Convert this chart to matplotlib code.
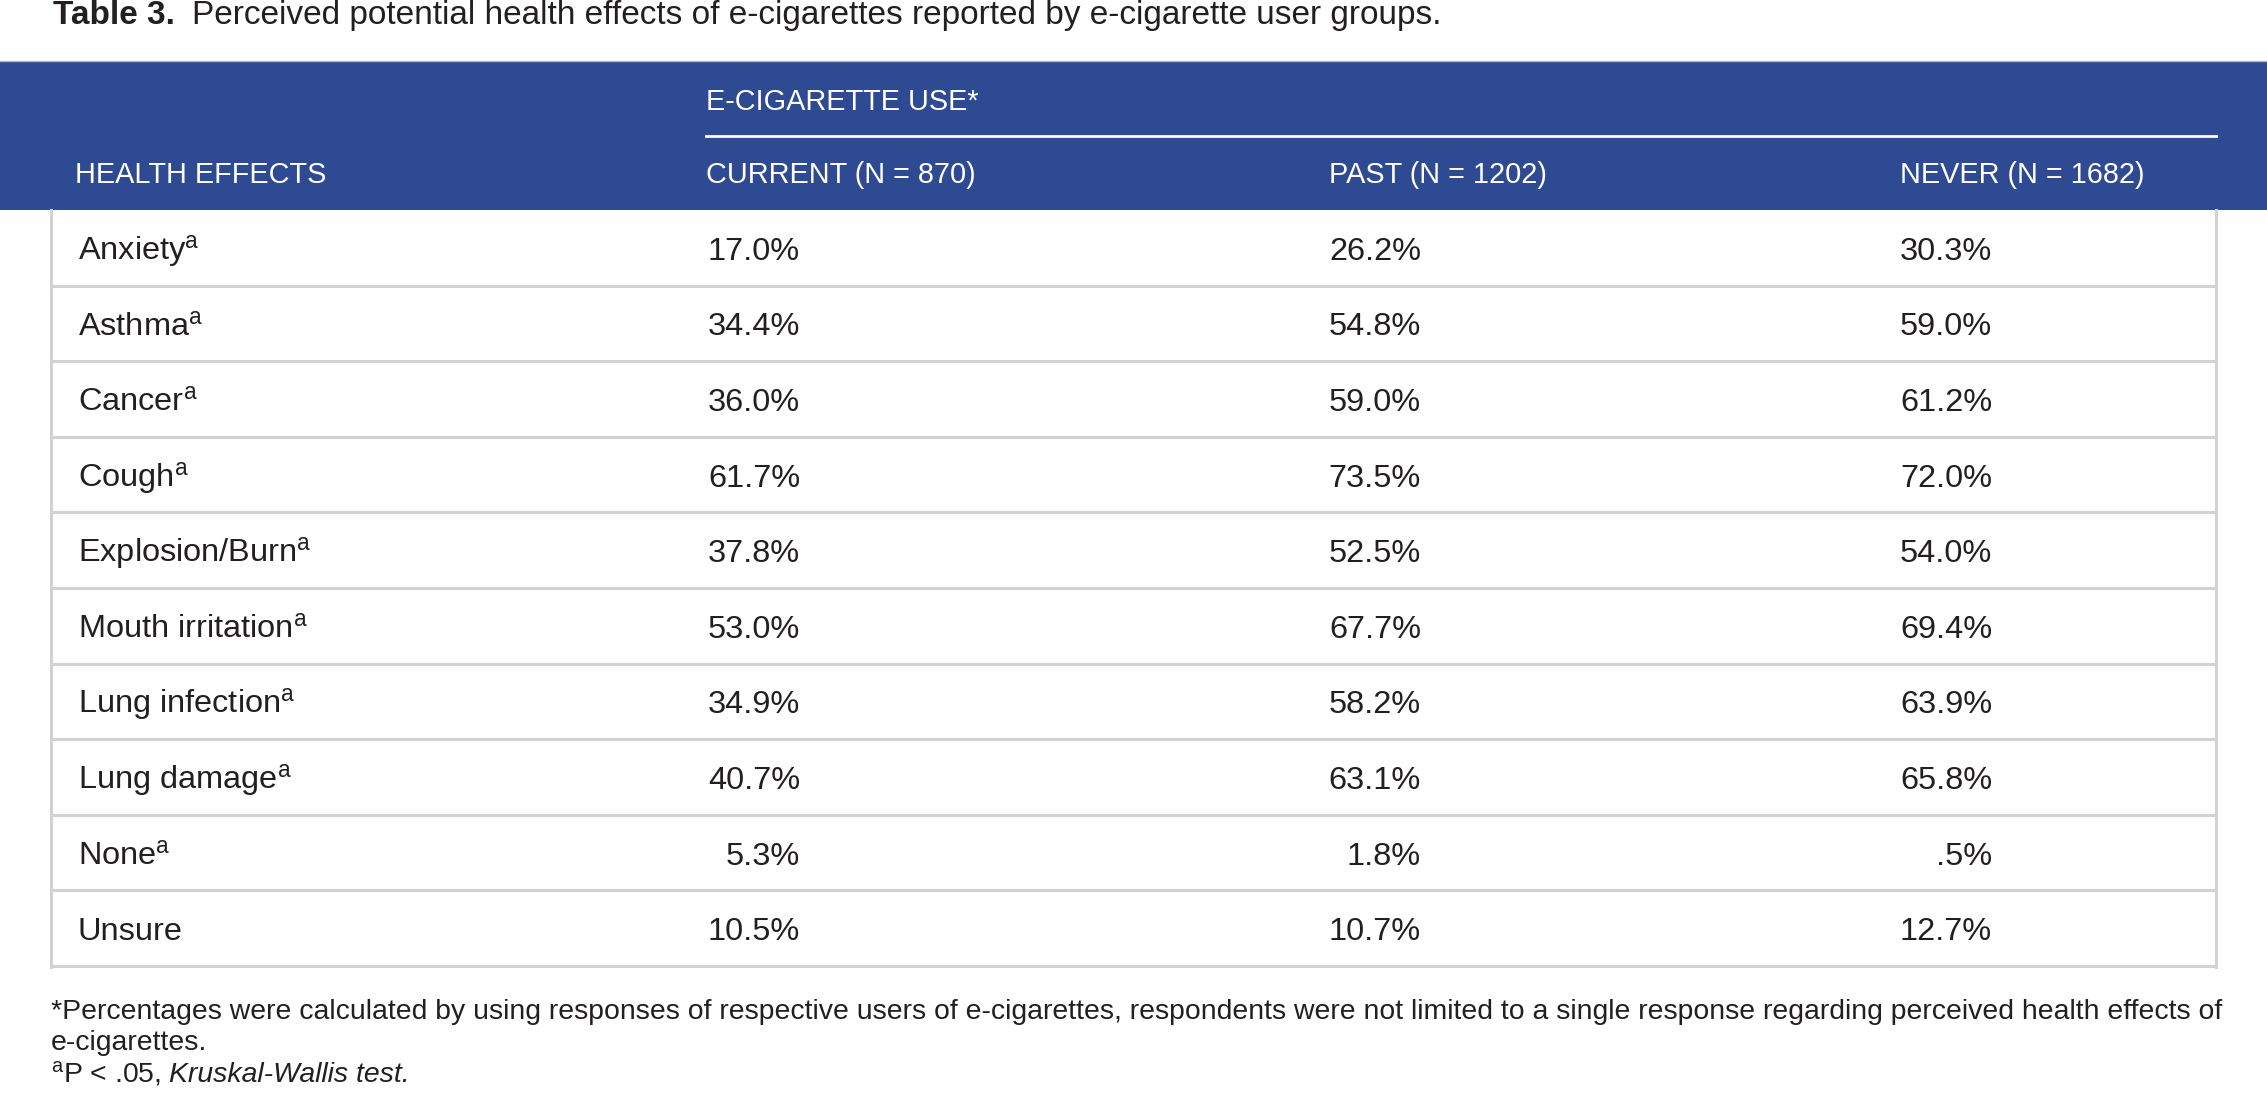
import matplotlib
matplotlib.use("Agg")
import matplotlib.pyplot as plt

# table content
health_effects = ["Anxiety", "Asthma", "Cancer", "Cough", "Explosion/Burn",
                  "Mouth irritation", "Lung infection", "Lung damage", "None", "Unsure"]
significant = [True, True, True, True, True, True, True, True, True, False]
current_use = [17.0, 34.4, 36.0, 61.7, 37.8, 53.0, 34.9, 40.7, 5.3, 10.5]
past_use = [26.2, 54.8, 59.0, 73.5, 52.5, 67.7, 58.2, 63.1, 1.8, 10.7]
never_use = [30.3, 59.0, 61.2, 72.0, 54.0, 69.4, 63.9, 65.8, 0.5, 12.7]
column_headers = ["CURRENT (N = 870)", "PAST (N = 1202)", "NEVER (N = 1682)"]
group_header = "E-CIGARETTE USE*"
first_header = "HEALTH EFFECTS"
title_bold = "Table 3."
title_text = "Perceived potential health effects of e-cigarettes reported by e-cigarette user groups."
footnote_1 = ("*Percentages were calculated by using responses of respective users of e-cigarettes, "
              "respondents were not limited to a single response regarding perceived health effects of")
footnote_2 = "e-cigarettes."
footnote_3a = "P < .05,"
footnote_3b = "Kruskal-Wallis test."

plt.rcParams["font.family"] = ["Liberation Sans", "DejaVu Sans"]
plt.rcParams["mathtext.fontset"] = "custom"
plt.rcParams["mathtext.rm"] = "Liberation Sans"
plt.rcParams["mathtext.it"] = "Liberation Sans:italic"

W, H = 2267, 1093
BLUE = "#2e4a93"
GRID = "#d2d2d2"
TXT = "#231f20"


def fmt(v):
    s = f"{v:.1f}%"
    if s.startswith("0"):
        s = s[1:]
    return s


fig = plt.figure(figsize=(W / 100, H / 100), dpi=100)
ax = fig.add_axes([0, 0, 1, 1])
ax.set_xlim(0, W)
ax.set_ylim(H, 0)
ax.axis("off")
renderer = fig.canvas.get_renderer()


def fit_size(s, target, **kw):
    # font size that makes string s span target pixels
    t = ax.text(0, 0, s, fontsize=20, **kw)
    w = t.get_window_extent(renderer).width
    t.remove()
    return 20 * target / w


body_fs = 23.4
head_fs = 20.8

# title
title_fs = fit_size(title_text, 1438 - 192)
t1 = ax.text(53, 24, title_bold, fontsize=title_fs, weight="bold", color=TXT, va="baseline")
ax.text(192, 24, title_text, fontsize=title_fs, color=TXT, va="baseline")

# header band
band_top, band_bot = 61, 210
ax.fill_between([0, W], band_top, band_bot, color=BLUE, lw=0)
ax.plot([0, W], [band_top, band_top], color="#aab6d6", lw=1)

left, right = 51, 2216
label_x = 78
col_left = [706, 1329, 1900]
col_right = [800, 1421, 1992]

ax.text(col_left[0], 110, group_header, fontsize=head_fs, color="white", va="baseline")
ax.plot([col_left[0], right], [136, 136], color="white", lw=2)
ax.text(label_x - 3, 183, first_header, fontsize=head_fs, color="white", va="baseline")
for x, h in zip(col_left, column_headers):
    ax.text(x, 183, h, fontsize=head_fs, color="white", va="baseline")

# body rows
n = len(health_effects)
row_h = (966 - band_bot) / n
for i in range(n):
    y0 = band_bot + i * row_h
    base = y0 + row_h / 2 + 12
    lab = health_effects[i] + (r"$^{\mathrm{a}}$" if significant[i] else "")
    ax.text(label_x, base, lab, fontsize=body_fs, color=TXT, va="baseline")
    for xr, vals in zip(col_right, [current_use, past_use, never_use]):
        ax.text(xr, base, fmt(vals[i]), fontsize=body_fs, color=TXT, va="baseline", ha="right")
    ax.plot([left, right], [y0 + row_h, y0 + row_h], color=GRID, lw=2.2, solid_capstyle="butt")

ax.plot([left, left], [band_bot, 967], color=GRID, lw=2.2)
ax.plot([right, right], [band_bot, 967], color=GRID, lw=2.2)

# footnotes
foot_fs = fit_size(footnote_1, 2164)
ax.text(left, 1019, footnote_1, fontsize=foot_fs, color=TXT, va="baseline")
ax.text(left, 1050, footnote_2, fontsize=foot_fs, color=TXT, va="baseline")
f3 = ax.text(left, 1082, r"$^{\mathrm{a}}$" + footnote_3a, fontsize=foot_fs, color=TXT, va="baseline")
bb = f3.get_window_extent(renderer)
ax.text(bb.x1 + 8, 1082, footnote_3b, fontsize=foot_fs, color=TXT, va="baseline", style="italic")

fig.savefig("out.png", dpi=100)
